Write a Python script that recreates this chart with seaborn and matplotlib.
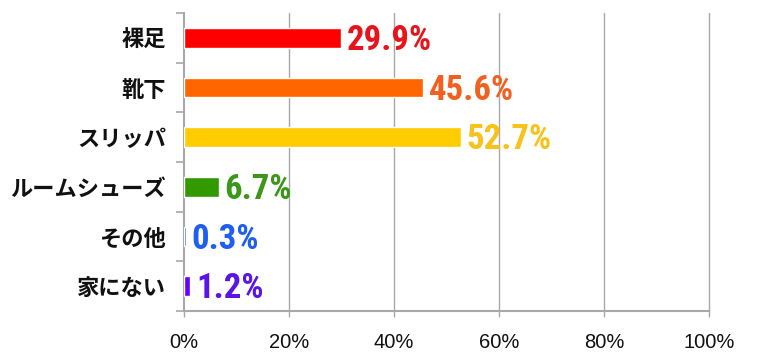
import matplotlib
matplotlib.use("Agg")
import matplotlib.pyplot as plt
import seaborn as sns
import pandas as pd
import numpy as np
from matplotlib.ticker import FixedLocator

categories = ["裸足", "靴下", "スリッパ", "ルームシューズ", "その他", "家にない"]
values = [29.9, 45.6, 52.7, 6.7, 0.3, 1.2]
labels = ["29.9%", "45.6%", "52.7%", "6.7%", "0.3%", "1.2%"]
bar_colors = ["#FF0000", "#FF6600", "#FFCC00", "#339900", "#2E6BEA", "#6600FF"]
text_colors = ["#E8141C", "#F06020", "#F7C21A", "#3C961A", "#1E5FF0", "#5A14E6"]
xticks = [0, 20, 40, 60, 80, 100]
xticklabels = ["0%", "20%", "40%", "60%", "80%", "100%"]

sns.set_theme(style="white")
plt.rcParams["font.family"] = ["Noto Sans CJK JP", "DejaVu Sans"]

df = pd.DataFrame({"cat": categories, "val": values})

fig = plt.figure(figsize=(7.66, 3.6), dpi=100)
ax = fig.add_axes([184 / 766, 1 - 311 / 360, 525 / 766, 298 / 360])

sns.barplot(data=df, y="cat", x="val", hue="cat", palette=bar_colors,
            orient="h", width=0.4, legend=False, ax=ax, saturation=1)
for p in ax.patches:
    p.set_zorder(3)

ax.set_xlim(0, 100)
ax.set_ylim(len(categories) - 0.5, -0.5)
ax.set_xlabel("")
ax.set_ylabel("")

grid_c = "#A8A8A8"
ax.set_xticks(xticks)
ax.set_xticklabels(xticklabels, fontsize=14.5, family=["Liberation Sans", "DejaVu Sans"], color="#111111")
for x in xticks[1:]:
    ax.axvline(x, color=grid_c, lw=1.0, zorder=0, clip_on=False)

ax.set_yticks(range(len(categories)))
ax.set_yticklabels(categories, fontsize=16, fontweight="bold", color="#111111")
ax.yaxis.set_minor_locator(FixedLocator(np.arange(-0.5, len(categories), 1.0)))
ax.tick_params(axis="y", which="major", length=0, pad=13)
ax.tick_params(axis="y", which="minor", length=6, color=grid_c, width=1.2, direction="out", left=True)
ax.tick_params(axis="x", which="major", length=4, color=grid_c, width=1.0, direction="out", bottom=True, pad=12)

for s in ["top", "right"]:
    ax.spines[s].set_visible(False)
for s in ["left", "bottom"]:
    ax.spines[s].set_color(grid_c)
    ax.spines[s].set_linewidth(1.5)

for i, (v, lab, c) in enumerate(zip(values, labels, text_colors)):
    ax.annotate(lab, xy=(v, i), xytext=(4, -2), textcoords="offset points",
                ha="left", va="center", fontsize=25, fontweight="bold", color=c,
                family=["Roboto Condensed", "DejaVu Sans"])

fig.savefig("out.png", dpi=100, facecolor="white")
